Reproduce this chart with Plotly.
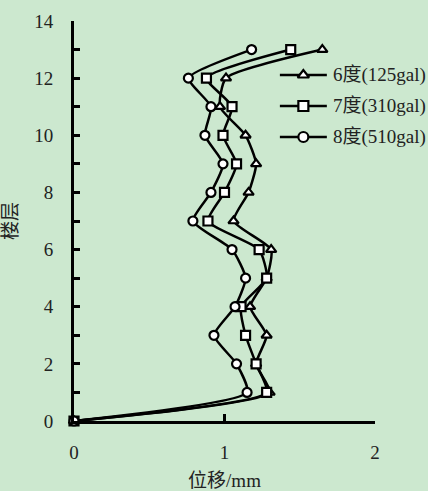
import plotly.graph_objects as go

# Storey numbers (0 = base) and peak inter-storey displacement (mm)
floors = list(range(0, 14))
disp_6 = [0, 1.30, 1.21, 1.28, 1.17, 1.28, 1.31, 1.06, 1.16, 1.21, 1.14, 0.97, 1.01, 1.65]
disp_7 = [0, 1.28, 1.21, 1.14, 1.11, 1.28, 1.23, 0.89, 1.00, 1.08, 0.99, 1.05, 0.88, 1.44]
disp_8 = [0, 1.15, 1.08, 0.93, 1.07, 1.14, 1.05, 0.79, 0.91, 0.99, 0.87, 0.91, 0.76, 1.18]

series_names = ["6度(125gal)", "7度(310gal)", "8度(510gal)"]
series_values = [disp_6, disp_7, disp_8]
series_symbols = ["triangle-up", "square", "circle"]

x_ticks = [0, 1, 2]
y_ticks = [0, 2, 4, 6, 8, 10, 12, 14]

BG = "#cce8cf"
FONT = "Liberation Serif, Times New Roman, Noto Sans CJK SC, serif"
LINE = dict(color="black", width=2.5)


def marker(sym, size=9):
    return dict(symbol=sym, size=size, color="white",
                line=dict(color="black", width=2.2))


fig = go.Figure()
for name, vals, sym in zip(series_names, series_values, series_symbols):
    fig.add_trace(go.Scatter(
        x=vals, y=floors, name=name, mode="lines+markers",
        line=dict(**LINE, shape="spline", smoothing=0.55),
        marker=marker(sym), cliponaxis=False, showlegend=False,
    ))

# Key drawn on an overlaid unit axis (0..1 over the plot area) so it can sit
# close to the right edge of the figure without squeezing the plot.
key_x0, key_x1, key_text_x = 0.684, 0.840, 0.854
key_rows = [0.865, 0.7875, 0.71]
annotations = []
for name, sym, ky in zip(series_names, series_symbols, key_rows):
    fig.add_trace(go.Scatter(
        x=[key_x0, key_x1], y=[ky, ky], xaxis="x2", yaxis="y2",
        mode="lines", line=LINE, cliponaxis=False,
        showlegend=False, hoverinfo="skip",
    ))
    fig.add_trace(go.Scatter(
        x=[(key_x0 + key_x1) / 2], y=[ky], xaxis="x2", yaxis="y2",
        mode="markers", marker=marker(sym, 10), cliponaxis=False,
        showlegend=False, hoverinfo="skip",
    ))
    annotations.append(dict(
        x=key_text_x, y=ky, xref="x2", yref="y2", text=name,
        showarrow=False, xanchor="left", yanchor="middle",
        font=dict(size=19, family=FONT, color="#222"),
    ))

fig.update_layout(
    width=428, height=491,
    margin=dict(l=74, r=53, t=21, b=70),
    paper_bgcolor=BG, plot_bgcolor=BG,
    font=dict(family=FONT, size=19, color="#222"),
    showlegend=False,
    annotations=annotations,
    xaxis=dict(
        range=[0, 2], tickvals=x_ticks, ticktext=[str(v) for v in x_ticks],
        showgrid=False, zeroline=False, showline=True, automargin=False,
        linecolor="black", linewidth=3,
        ticks="inside", ticklen=7, tickwidth=3, tickcolor="black",
        ticklabelstandoff=12,
        title=dict(text="位移/mm", font=dict(size=19), standoff=16),
    ),
    yaxis=dict(
        range=[0, 14], tickvals=y_ticks, ticktext=[str(v) for v in y_ticks],
        showgrid=False, zeroline=False, showline=True, automargin=False,
        linecolor="black", linewidth=3,
        ticks="inside", ticklen=6, tickwidth=3, tickcolor="black",
        ticklabelstandoff=14,
        minor=dict(dtick=1, ticks="inside", ticklen=6, tickwidth=3,
                   tickcolor="black", showgrid=False),
        title=dict(text="楼层", font=dict(size=19), standoff=22),
    ),
    xaxis2=dict(range=[0, 1], overlaying="x", visible=False, fixedrange=True),
    yaxis2=dict(range=[0, 1], overlaying="y", visible=False, fixedrange=True),
)

fig.write_html("out.html")
